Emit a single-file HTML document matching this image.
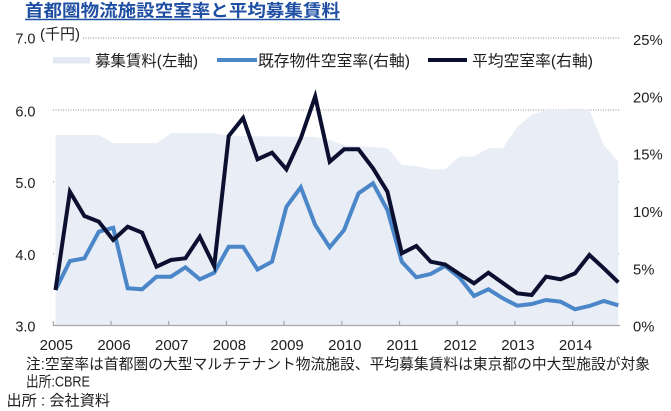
<!DOCTYPE html>
<html><head><meta charset="utf-8">
<style>
html,body{margin:0;padding:0;background:#fff;}
svg{display:block;}
text{font-family:"Liberation Sans","Noto Sans CJK JP",sans-serif;fill:#1e1e1e;}
</style></head>
<body>
<svg width="671" height="411" viewBox="0 0 671 411" xmlns="http://www.w3.org/2000/svg">
<rect width="671" height="411" fill="#fff"/>
<!-- title -->
<text x="25" y="16.5" font-size="17" font-weight="bold" style="fill:#1f4fa3" textLength="315" lengthAdjust="spacingAndGlyphs">首都圏物流施設空室率と平均募集賃料</text>
<line x1="25" y1="19.5" x2="340" y2="19.5" stroke="#1f4fa3" stroke-width="1.5"/>

<!-- gridlines -->
<g stroke="#8c8c8c" stroke-width="1" stroke-dasharray="1,1.5">
<line x1="83" y1="38" x2="619" y2="38"/>
<line x1="53" y1="110" x2="619" y2="110"/>
<line x1="53" y1="182" x2="619" y2="182"/>
<line x1="53" y1="254" x2="619" y2="254"/>
</g>

<!-- area -->
<path d="M55.5,325.5 L55.5,135 L98.8,135 L113.2,143.3 L156.5,143.3 L170.9,133.3 L214.2,133.3 L228.7,136 L315.2,137 L329.7,140 L344.1,145 L373,147 L387.4,148.3 L401.8,165 L416.3,166 L430.7,169.3 L445.1,169.3 L459.5,156.5 L474,156.5 L488.4,148.3 L502.8,148.3 L517.3,126.7 L531.7,115 L546.1,110 L589.4,110 L603.8,145 L618.3,161.7 L618.3,325.5 Z" fill="#e8edf6"/>

<!-- axis -->
<line x1="53" y1="325.5" x2="620" y2="325.5" stroke="#a6a6a6" stroke-width="1.3"/>
<g stroke="#a6a6a6" stroke-width="1.2">
<line x1="53.3" y1="321" x2="53.3" y2="325.5"/>
<line x1="111" y1="321" x2="111" y2="325.5"/>
<line x1="168.7" y1="321" x2="168.7" y2="325.5"/>
<line x1="226.4" y1="321" x2="226.4" y2="325.5"/>
<line x1="284.1" y1="321" x2="284.1" y2="325.5"/>
<line x1="341.8" y1="321" x2="341.8" y2="325.5"/>
<line x1="399.5" y1="321" x2="399.5" y2="325.5"/>
<line x1="457.2" y1="321" x2="457.2" y2="325.5"/>
<line x1="514.9" y1="321" x2="514.9" y2="325.5"/>
<line x1="572.6" y1="321" x2="572.6" y2="325.5"/>
</g>

<!-- blue line -->
<path d="M55.5,290 L69.9,261 L84.4,258.3 L98.8,231.7 L113.2,227.7 L127.7,288.3 L142.1,289.3 L156.5,276.7 L170.9,276.7 L185.4,267.3 L199.8,279.3 L214.2,272.7 L228.7,246.7 L243.1,246.7 L257.5,269.5 L272,261.7 L286.4,206.7 L300.8,187.3 L315.2,225 L329.7,247.3 L344.1,230 L358.5,193.3 L373,183.3 L387.4,210 L401.8,261.7 L416.3,277.3 L430.7,274 L445.1,266 L459.5,277.5 L474,296 L488.4,289.3 L502.8,298.3 L517.3,305.7 L531.7,304 L546.1,300 L560.6,301.7 L575,309.3 L589.4,306 L603.8,301 L618.3,305.3" fill="none" stroke="#4a86c8" stroke-width="4" stroke-linejoin="miter"/>

<!-- dark line -->
<path d="M55.5,290 L69.9,191.7 L84.4,216 L98.8,221.7 L113.2,240 L127.7,226.7 L142.1,232.7 L156.5,266.7 L170.9,260 L185.4,258.3 L199.8,236.7 L214.2,266 L228.7,136 L243.1,118 L257.5,159.3 L272,152.7 L286.4,169.3 L300.8,138.3 L315.2,96.5 L329.7,161.7 L344.1,149.3 L358.5,149.3 L373,168.3 L387.4,191.7 L401.8,253.3 L416.3,246 L430.7,261.7 L445.1,264.5 L459.5,274 L474,283.3 L488.4,272.7 L502.8,283 L517.3,293.3 L531.7,295 L546.1,276.7 L560.6,279.3 L575,273.3 L589.4,255 L603.8,268.3 L618.3,282.3" fill="none" stroke="#0b1030" stroke-width="4" stroke-linejoin="miter"/>

<!-- left axis labels -->
<g font-size="14.5" text-anchor="end">
<text x="35.5" y="43.5">7.0</text>
<text x="35.5" y="116.5">6.0</text>
<text x="35.5" y="188">5.0</text>
<text x="35.5" y="260">4.0</text>
<text x="35.5" y="331.5">3.0</text>
</g>
<text x="40" y="39" font-size="15">(千円)</text>

<!-- right axis labels -->
<g font-size="14.8">
<text x="633" y="45">25%</text>
<text x="633" y="102.3">20%</text>
<text x="633" y="159.7">15%</text>
<text x="633" y="217">10%</text>
<text x="633" y="274.4">5%</text>
<text x="633" y="331.7">0%</text>
</g>

<!-- x labels -->
<g font-size="15" text-anchor="middle">
<text x="56.3" y="350">2005</text>
<text x="114" y="350">2006</text>
<text x="171.7" y="350">2007</text>
<text x="229.4" y="350">2008</text>
<text x="287.1" y="350">2009</text>
<text x="344.8" y="350">2010</text>
<text x="402.5" y="350">2011</text>
<text x="460.2" y="350">2012</text>
<text x="517.9" y="350">2013</text>
<text x="575.6" y="350">2014</text>
</g>

<!-- legend -->
<rect x="53" y="57" width="37" height="6.5" fill="#e3e9f4"/>
<text x="95" y="66" font-size="15.5" textLength="103" lengthAdjust="spacingAndGlyphs">募集賃料(左軸)</text>
<line x1="217" y1="60" x2="257" y2="60" stroke="#4a86c8" stroke-width="4"/>
<text x="258" y="66" font-size="15.5" textLength="152" lengthAdjust="spacingAndGlyphs">既存物件空室率(右軸)</text>
<line x1="428" y1="60" x2="467" y2="60" stroke="#0b1030" stroke-width="4"/>
<text x="472" y="66" font-size="15.5" textLength="121" lengthAdjust="spacingAndGlyphs">平均空室率(右軸)</text>

<!-- notes -->
<text x="26" y="369" font-size="14.6" textLength="624" lengthAdjust="spacingAndGlyphs">注:空室率は首都圏の大型マルチテナント物流施設、平均募集賃料は東京都の中大型施設が対象</text>
<text x="26" y="386.5" font-size="14.6" textLength="64" lengthAdjust="spacingAndGlyphs">出所:CBRE</text>
<text x="6.5" y="405.5" font-size="15" textLength="103.5" lengthAdjust="spacingAndGlyphs">出所 : 会社資料</text>
</svg>
</body></html>
